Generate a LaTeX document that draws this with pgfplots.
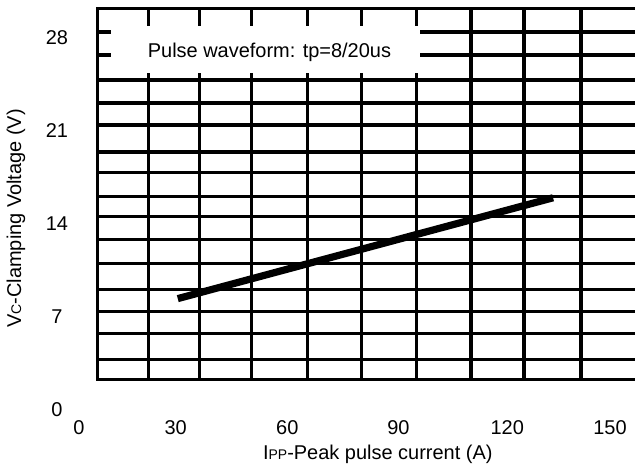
\documentclass[border=0pt]{standalone}
\usepackage{fontspec}
\setmainfont{Liberation Sans}
\usepackage{pgfplots}
\pgfplotsset{compat=1.18}
\begin{document}
\fontsize{10}{12}\selectfont
\begin{tikzpicture}
\begin{axis}[
  scale only axis,
  width=317.5pt, height=235pt,
  xmin=-20.46, xmax=156.52,
  ymin=-4.478, ymax=30.83,
  axis line style={draw=none},
  major tick length=0pt,
  /pgf/number format/assume math mode=true,
  xtick={1.28,28.3,59.5,90.5,120.9,149.6},
  xticklabels={0,30,60,90,120,150},
  ytick={0,7,14,21,28},
  xticklabel style={anchor=center, yshift=21pt},
  yticklabel style={anchor=center, xshift=28pt},
  xlabel={I{\fontsize{7}{8}\selectfont PP}-Peak pulse current (A)},
  ylabel={V{\fontsize{7}{8}\selectfont C}-Clamping Voltage (V)},
  xlabel style={at={(axis description cs:0.5945,0.0319)}, anchor=center},
  ylabel style={at={(axis description cs:0.0236,0.535)}, anchor=center},
  grid line/.style={black, line width=1.6pt, line cap=rect},
]
% vertical grid lines
\addplot[grid line] coordinates {(6.58,2.28) (6.58,30.23)};
\addplot[grid line] coordinates {(20.8,2.28) (20.8,30.23)};
\addplot[grid line] coordinates {(35.0,2.28) (35.0,30.23)};
\addplot[grid line] coordinates {(49.5,2.28) (49.5,30.23)};
\addplot[grid line] coordinates {(65.1,2.28) (65.1,30.23)};
\addplot[grid line] coordinates {(80.2,2.28) (80.2,30.23)};
\addplot[grid line] coordinates {(95.5,2.28) (95.5,30.23)};
\addplot[grid line] coordinates {(110.8,2.28) (110.8,30.23)};
\addplot[grid line] coordinates {(125.6,2.28) (125.6,30.23)};
\addplot[grid line] coordinates {(141.5,2.28) (141.5,30.23)};
% horizontal grid lines
\addplot[grid line] coordinates {(6.58,30.23) (160,30.23)};
\addplot[grid line] coordinates {(6.58,28.43) (160,28.43)};
\addplot[grid line] coordinates {(6.58,26.70) (160,26.70)};
\addplot[grid line] coordinates {(6.58,24.82) (160,24.82)};
\addplot[grid line] coordinates {(6.58,23.10) (160,23.10)};
\addplot[grid line] coordinates {(6.58,21.44) (160,21.44)};
\addplot[grid line] coordinates {(6.58,19.41) (160,19.41)};
\addplot[grid line] coordinates {(6.58,17.84) (160,17.84)};
\addplot[grid line] coordinates {(6.58,16.03) (160,16.03)};
\addplot[grid line] coordinates {(6.58,14.53) (160,14.53)};
\addplot[grid line] coordinates {(6.58,12.80) (160,12.80)};
\addplot[grid line] coordinates {(6.58,11.00) (160,11.00)};
\addplot[grid line] coordinates {(6.58,9.05) (160,9.05)};
\addplot[grid line] coordinates {(6.58,7.39) (160,7.39)};
\addplot[grid line] coordinates {(6.58,5.74) (160,5.74)};
\addplot[grid line] coordinates {(6.58,3.79) (160,3.79)};
\addplot[grid line] coordinates {(6.58,2.28) (160,2.28)};
% annotation box
\node[fill=white, inner sep=0pt, minimum width=155pt, minimum height=23.5pt] at (axis cs:53.4,27.11) {};
\node[inner sep=0pt] at (axis cs:54.5,26.93) {Pulse waveform: tp=8/20us};
% data
\addplot[black, line width=3.6pt] coordinates {(28.9,8.37) (133.7,15.96)};
\end{axis}
\end{tikzpicture}
\end{document}
